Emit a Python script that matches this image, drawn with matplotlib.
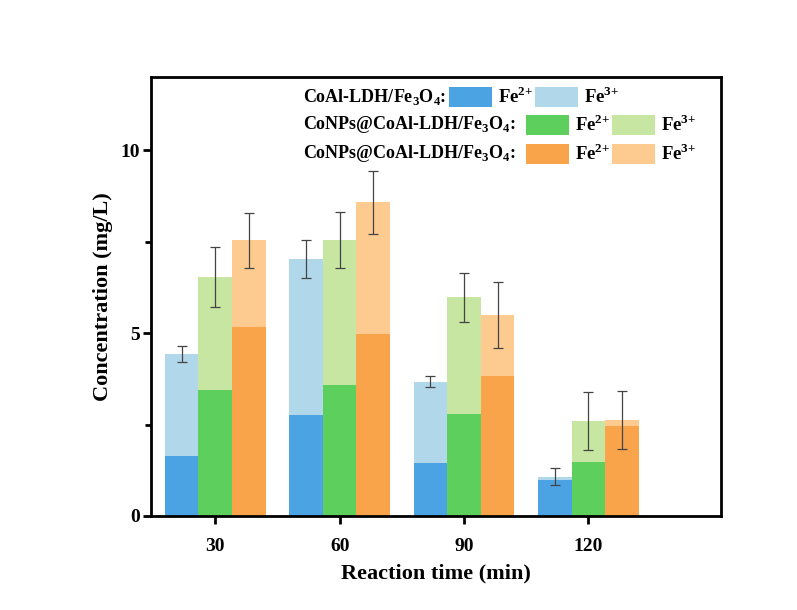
import numpy as np
import matplotlib
matplotlib.use("Agg")
from matplotlib import pyplot as plt
from matplotlib.patches import Rectangle
from matplotlib.ticker import MultipleLocator

plt.rcParams['font.family'] = ['Liberation Serif', 'DejaVu Serif']
plt.rcParams['font.weight'] = 'bold'
plt.rcParams['mathtext.fontset'] = 'custom'
plt.rcParams['mathtext.rm'] = 'Liberation Serif:bold'
plt.rcParams['mathtext.bf'] = 'Liberation Serif:bold'

times = [30, 60, 90, 120]
labels = ['CoAl-LDH/Fe$_3$O$_4$:', 'CoNPs@CoAl-LDH/Fe$_3$O$_4$:', 'CoNPs@CoAl-LDH/Fe$_3$O$_4$:']

# Fe2+ part and total (Fe2+ + Fe3+) per material
blue_fe2 = [1.64, 2.76, 1.45, 0.98]
blue_tot = [4.43, 7.02, 3.67, 1.07]
blue_err = [0.23, 0.52, 0.15, 0.23]

green_fe2 = [3.44, 3.58, 2.79, 1.48]
green_tot = [6.53, 7.54, 5.98, 2.60]
green_err = [0.83, 0.77, 0.67, 0.80]

orange_fe2 = [5.16, 4.97, 3.83, 2.45]
orange_tot = [7.54, 8.58, 5.49, 2.62]
orange_err = [0.75, 0.86, 0.90, 0.80]

dark = ['#4ba3e3', '#5ccf5c', '#f9a34b']
light = ['#b0d7ea', '#c6e6a2', '#fdcb8f']

fig = plt.figure(figsize=(7.97, 6.10), dpi=100)
ax = fig.add_axes([0.1895, 0.1541, 0.7151, 0.7197])

w = 8.1
x = np.array(times, dtype=float)
series = [(blue_fe2, blue_tot, blue_err), (green_fe2, green_tot, green_err),
          (orange_fe2, orange_tot, orange_err)]
for i, (fe2, tot, err) in enumerate(series):
    xs = x + (i - 1) * w
    fe3 = np.array(tot) - np.array(fe2)
    ax.bar(xs, fe2, width=w, color=dark[i], edgecolor='none')
    ax.bar(xs, fe3, width=w, bottom=fe2, color=light[i], edgecolor='none')
    ax.errorbar(xs, tot, yerr=err, fmt='none', ecolor='#444444', elinewidth=0.9,
                capsize=3.5, capthick=0.9)

ax.set_xlim(14.5, 152)
ax.set_ylim(0, 12)
ax.set_xticks(times)
ax.set_xticklabels([str(t) for t in times])
ax.yaxis.set_major_locator(MultipleLocator(5))
ax.yaxis.set_minor_locator(MultipleLocator(2.5))
for s in ax.spines.values():
    s.set_linewidth(2)
ax.tick_params(which='major', direction='out', length=6, width=2, labelsize=14)
ax.tick_params(axis='x', which='major', pad=10)
ax.tick_params(axis='y', which='major', pad=2)
ax.tick_params(which='minor', direction='out', length=4, width=2)
ax.set_xlabel('Reaction time (min)', fontsize=16, fontweight='bold', labelpad=6)
ax.set_ylabel('Concentration (mg/L)', fontsize=16, fontweight='bold', labelpad=5)

# manual legend
def ax_frac(px, py):
    return (px - 151) / 570, (516 - py) / 439

rows = [(97, 449), (125, 526), (154, 526)]
for r, (py, px0) in enumerate(rows):
    tx, ty = ax_frac(303, py)
    ax.text(tx, ty, labels[r], transform=ax.transAxes, fontsize=13,
            fontweight='bold', va='center', ha='left')
    for k, col in enumerate([dark[r], light[r]]):
        rx0 = px0 + k * 86
        rx, ry = ax_frac(rx0, py + 10)
        ax.add_patch(Rectangle((rx, ry), 43 / 570, 20 / 439, transform=ax.transAxes,
                               facecolor=col, edgecolor='none'))
        lx, ly = ax_frac(rx0 + 49, py)
        ax.text(lx, ly, 'Fe$^{2{+}}$' if k == 0 else 'Fe$^{3{+}}$', transform=ax.transAxes,
                fontsize=13.5, fontweight='bold', va='center', ha='left')

fig.savefig('out.png', dpi=100)
